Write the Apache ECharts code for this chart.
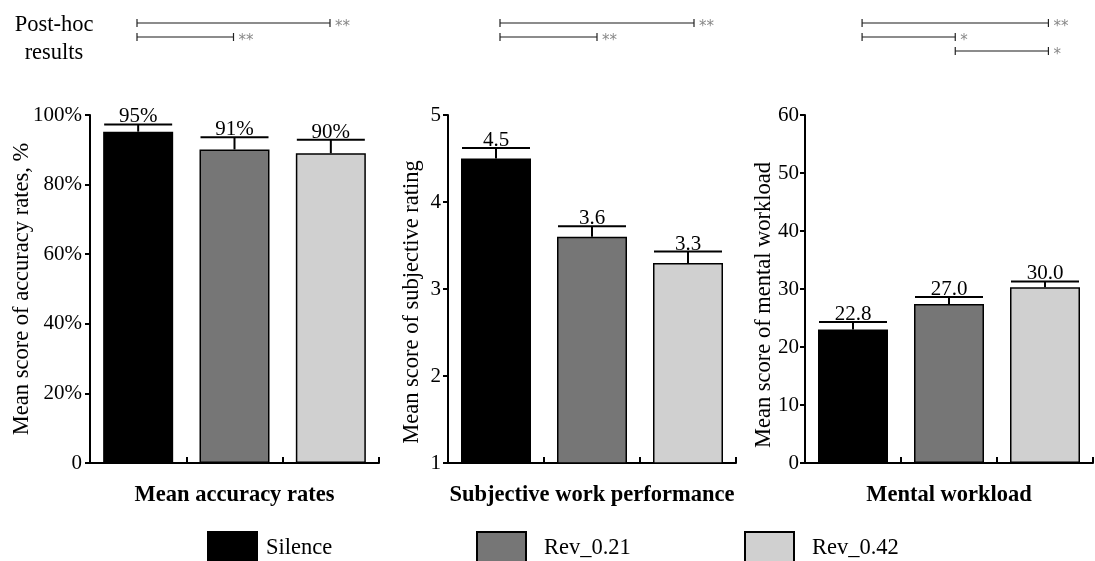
<!DOCTYPE html>
<html><head><meta charset="utf-8">
<script src="https://cdn.jsdelivr.net/npm/echarts@6/dist/echarts.min.js"></script>
<style>html,body{margin:0;padding:0;background:#fff;}#c{width:1095px;height:561px;}</style>
</head><body><div id="c"></div>
<script>
const conditions = ['Silence', 'Rev_0.21', 'Rev_0.42'];
const colors = ['#000000', '#767676', '#d0d0d0'];

const accValues = [95.2, 90.1, 89.0];
const accErrors = [2.1, 3.5, 3.9];
const accLabels = ['95%', '91%', '90%'];

const perfValues = [4.5, 3.6, 3.3];
const perfErrors = [0.12, 0.12, 0.13];
const perfLabels = ['4.5', '3.6', '3.3'];

const workValues = [23.0, 27.4, 30.3];
const workErrors = [1.3, 1.2, 1.0];
const workLabels = ['22.8', '27.0', '30.0'];

// [fromIndex, toIndex, row, stars]
const posthocAcc = [[0, 2, 1, '**'], [0, 1, 2, '**']];
const posthocPerf = [[0, 2, 1, '**'], [0, 1, 2, '**']];
const posthocWork = [[0, 2, 1, '**'], [0, 1, 2, '*'], [1, 2, 3, '*']];

const panelTitles = ['Mean accuracy rates', 'Subjective work performance', 'Mental workload'];
const yNames = ['Mean score of accuracy rates, %', 'Mean score of subjective rating', 'Mean score of mental workload'];

const FONT = '"Liberation Serif", "Times New Roman", serif';

const panels = [
  {values: accValues, errors: accErrors, labels: accLabels, min: 0, max: 100, interval: 20,
   fmt: v => v === 0 ? '0' : v + '%', left: 90, width: 289, nameGap: 56, namePad: [0, 0, 0, 0], labelMargin: 8,
   posthoc: posthocAcc, phLeft: 88.75, phWidth: 289.5},
  {values: perfValues, errors: perfErrors, labels: perfLabels, min: 1, max: 5, interval: 1,
   fmt: v => String(v), left: 448, width: 288, nameGap: 24, namePad: [0, 26, 0, 0], labelMargin: 7,
   posthoc: posthocPerf, phLeft: 451.5, phWidth: 291},
  {values: workValues, errors: workErrors, labels: workLabels, min: 0, max: 60, interval: 10,
   fmt: v => String(v), left: 805, width: 288, nameGap: 29, namePad: [0, 32, 0, 0], labelMargin: 6,
   posthoc: posthocWork, phLeft: 815.5, phWidth: 291}
];

const grid = [], xAxis = [], yAxis = [], series = [];
panels.forEach((p, i) => {
  grid.push({left: p.left, width: p.width, top: 115, height: 348});
  xAxis.push({
    type: 'category', gridIndex: i, data: conditions,
    axisLine: {lineStyle: {color: '#000', width: 2}},
    axisTick: {show: true, inside: true, length: 6, lineStyle: {color: '#000', width: 2}},
    axisLabel: {show: false},
    name: panelTitles[i], nameLocation: 'middle', nameGap: 21,
    nameTextStyle: {fontFamily: FONT, fontSize: 22.5, fontWeight: 'bold', color: '#000', verticalAlign: 'top'}
  });
  yAxis.push({
    type: 'value', gridIndex: i, min: p.min, max: p.max, interval: p.interval,
    splitLine: {show: false},
    axisLine: {show: true, lineStyle: {color: '#000', width: 2}},
    axisTick: {show: true, length: 5, lineStyle: {color: '#000', width: 2}},
    axisLabel: {formatter: p.fmt, fontFamily: FONT, fontSize: 21, color: '#000', margin: p.labelMargin},
    name: yNames[i], nameLocation: 'middle', nameRotate: 90, nameGap: p.nameGap, nameMoveOverlap: false,
    nameTextStyle: {fontFamily: FONT, fontSize: 22.5, color: '#000', padding: p.namePad}
  });
  conditions.forEach((c, k) => {
    series.push({
      type: 'bar', name: c, xAxisIndex: i, yAxisIndex: i,
      barWidth: 70, barGap: '-100%',
      data: p.values.map((v, j) => j === k ? v : null),
      itemStyle: {color: colors[k], borderColor: '#000', borderWidth: 1.5},
      emphasis: {disabled: true}, animation: false
    });
  });
  series.push({
    type: 'custom', xAxisIndex: i, yAxisIndex: i, animation: false, z: 5,
    data: p.values.map((v, j) => [j, v, v + p.errors[j]]),
    renderItem: (params, api) => {
      const base = api.coord([api.value(0), api.value(1)]);
      const top = api.coord([api.value(0), api.value(2)]);
      const hw = 34;
      return {type: 'group', children: [
        {type: 'line', shape: {x1: base[0], y1: base[1], x2: top[0], y2: top[1]}, style: {stroke: '#000', lineWidth: 2}},
        {type: 'line', shape: {x1: top[0] - hw, y1: top[1], x2: top[0] + hw, y2: top[1]}, style: {stroke: '#000', lineWidth: 2}},
        {type: 'text', x: top[0], y: top[1] + 3, style: {text: p.labels[params.dataIndex], fontFamily: FONT, fontSize: 21, fill: '#000', align: 'center', verticalAlign: 'bottom'}}
      ]};
    }
  });
});

// post-hoc grids
panels.forEach((p, i) => {
  const gi = grid.length;
  grid.push({left: p.phLeft, width: p.phWidth, top: 9, height: 56});
  xAxis.push({type: 'category', gridIndex: gi, data: conditions, show: false});
  yAxis.push({type: 'value', gridIndex: gi, min: 0, max: 4, inverse: true, show: false});
  series.push({
    type: 'custom', xAxisIndex: gi, yAxisIndex: gi, animation: false,
    data: p.posthoc.map(r => [r[0], r[1], r[2]]),
    renderItem: (params, api) => {
      const a = api.coord([api.value(0), api.value(2)]);
      const b = api.coord([api.value(1), api.value(2)]);
      const stars = p.posthoc[params.dataIndex][3];
      return {type: 'group', children: [
        {type: 'line', shape: {x1: a[0], y1: a[1], x2: b[0], y2: b[1]}, style: {stroke: '#666', lineWidth: 1.5}},
        {type: 'line', shape: {x1: a[0], y1: a[1] - 4, x2: a[0], y2: a[1] + 4}, style: {stroke: '#222', lineWidth: 1.2}},
        {type: 'line', shape: {x1: b[0], y1: b[1] - 4, x2: b[0], y2: b[1] + 4}, style: {stroke: '#222', lineWidth: 1.2}},
        {type: 'text', x: b[0] + 5, y: b[1] + 4, style: {text: stars, fontFamily: '"DejaVu Sans", sans-serif', fontSize: 15, fill: '#888', align: 'left', verticalAlign: 'middle'}}
      ]};
    }
  });
});

const legendPos = [{left: 207, pad: 4}, {left: 476, pad: 13}, {left: 744, pad: 13}];
const legend = conditions.map((c, k) => ({
  data: [c], left: legendPos[k].left, top: 531, padding: 0,
  itemWidth: 49, itemHeight: 32, icon: 'rect', selectedMode: false,
  textStyle: {fontFamily: FONT, fontSize: 22.5, color: '#000', padding: [0, 0, 0, legendPos[k].pad]}
}));

const chart = echarts.init(document.getElementById('c'), null, {renderer: 'canvas'});
chart.setOption({
  animation: false,
  grid, xAxis, yAxis, series, legend,
  graphic: [{
    type: 'text', x: 54, y: 11,
    style: {text: 'Post-hoc\nresults', fontFamily: FONT, fontSize: 22.5, lineHeight: 28, fill: '#000', align: 'center', verticalAlign: 'top'}
  }]
});
</script></body></html>
